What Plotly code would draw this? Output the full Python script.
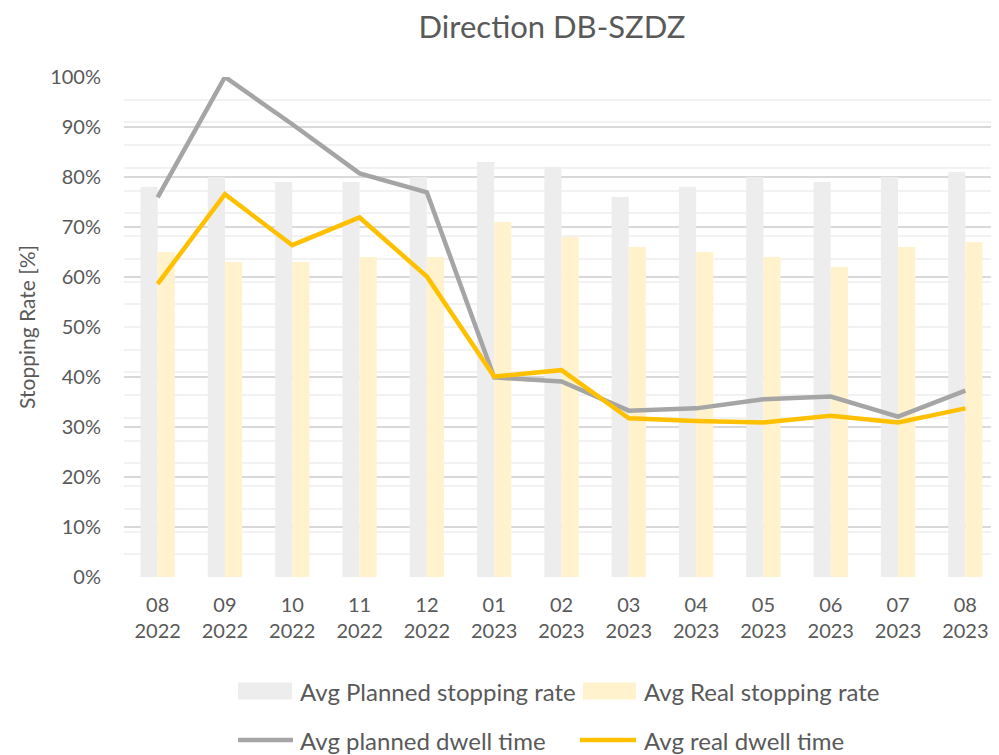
import plotly.graph_objects as go

months = ["08", "09", "10", "11", "12", "01", "02", "03", "04", "05", "06", "07", "08"]
years = ["2022", "2022", "2022", "2022", "2022", "2023", "2023", "2023", "2023", "2023", "2023", "2023", "2023"]
categories = [f"{m}<br>{y}" for m, y in zip(months, years)]

planned_rate = [0.78, 0.80, 0.79, 0.79, 0.80, 0.83, 0.82, 0.76, 0.78, 0.80, 0.79, 0.80, 0.81]
real_rate = [0.65, 0.63, 0.63, 0.64, 0.64, 0.71, 0.68, 0.66, 0.65, 0.64, 0.62, 0.66, 0.67]

# dwell times (seconds, secondary axis 0-110)
planned_dwell = [83.5, 110.0, 99.6, 88.8, 84.6, 43.9, 43.0, 36.6, 37.1, 39.1, 39.7, 35.3, 41.0]
real_dwell = [64.5, 84.2, 73.0, 79.1, 66.1, 44.1, 45.5, 34.9, 34.3, 34.0, 35.5, 34.0, 37.1]

names = ["Avg Planned stopping rate", "Avg Real stopping rate",
         "Avg planned dwell time", "Avg real dwell time"]
colors = ["#EDEDED", "#FFF2CC", "#A5A5A5", "#FFC000"]

FONT = "Lato"
TXT = "#595959"

# page body has an 8px margin: figure is drawn at (8, 8)
OFF = 8
FW, FH = 999 - OFF, 755 - OFF
L, W = 124 - OFF, 875
T, H = 77 - OFF, 500

fig = go.Figure()
fig.add_trace(go.Bar(x=categories, y=planned_rate, name=names[0], marker_color=colors[0],
                     marker_line_width=0))
fig.add_trace(go.Bar(x=categories, y=real_rate, name=names[1], marker_color=colors[1],
                     marker_line_width=0))
fig.add_trace(go.Scatter(x=categories, y=planned_dwell, name=names[2], mode="lines",
                         line=dict(color=colors[2], width=4.5), yaxis="y2"))
fig.add_trace(go.Scatter(x=categories, y=real_dwell, name=names[3], mode="lines",
                         line=dict(color=colors[3], width=4.5), yaxis="y2"))

# custom legend (Excel-style wide swatches); positions given in screen pixels
def px(x):
    return (x - OFF - L) / W
def py(y):
    return (T + H - (y - OFF)) / H

shapes = []
annotations = []
legend_layout = [
    (238, 292, 298, 691, "rect"),
    (583, 636, 642, 691, "rect"),
    (238, 293, 298, 740, "line"),
    (580, 636, 642, 740, "line"),
]
for (x0, x1, tx, yc, kind), nm, col in zip(legend_layout, names, colors):
    if kind == "rect":
        shapes.append(dict(type="rect", xref="paper", yref="paper",
                           x0=px(x0), x1=px(x1), y0=py(yc - 8.5), y1=py(yc + 8.5),
                           fillcolor=col, line=dict(width=0)))
    else:
        shapes.append(dict(type="line", xref="paper", yref="paper",
                           x0=px(x0), x1=px(x1), y0=py(yc), y1=py(yc),
                           line=dict(color=col, width=4.5)))
    annotations.append(dict(text=nm, xref="paper", yref="paper", x=px(tx), y=py(yc),
                            xanchor="left", yanchor="middle", showarrow=False,
                            font=dict(family=FONT, size=24, color=TXT)))

fig.update_layout(
    width=FW, height=FH,
    margin=dict(l=L, r=FW - L - W, t=T, b=FH - T - H, pad=0),
    paper_bgcolor="white", plot_bgcolor="white",
    barmode="group", bargap=0.49, bargroupgap=0,
    showlegend=False,
    title=dict(text="Direction DB-SZDZ", x=px(552), xref="paper", xanchor="center",
               y=1 - (27 - OFF) / FH, yanchor="middle",
               font=dict(family=FONT, size=31, color=TXT)),
    font=dict(family=FONT, color=TXT),
    xaxis=dict(showgrid=False, showline=False, zeroline=False,
               ticks="outside", ticklen=10, tickcolor="rgba(0,0,0,0)",
               tickfont=dict(family=FONT, size=20, color=TXT)),
    yaxis=dict(range=[0, 1], tickformat=".0%", dtick=0.1,
               showgrid=True, gridcolor="#D9D9D9", gridwidth=1.5,
               zeroline=False, showline=False,
               ticks="outside", ticklen=18, tickcolor="rgba(0,0,0,0)",
               tickfont=dict(family=FONT, size=20, color=TXT),
               title=dict(text="Stopping Rate [%]", standoff=8,
                          font=dict(family=FONT, size=21, color=TXT))),
    yaxis2=dict(range=[0, 110], dtick=5, overlaying="y", side="right",
                showgrid=True, gridcolor="#F2F2F2", gridwidth=1.5,
                showticklabels=False, zeroline=False, showline=False, ticks=""),
    shapes=shapes,
    annotations=annotations,
)

fig.write_html("out.html")
